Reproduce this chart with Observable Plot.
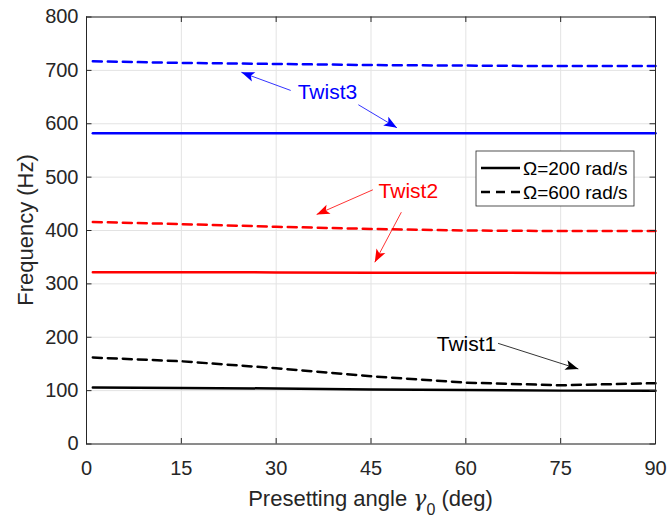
<!DOCTYPE html>
<html><head><meta charset="utf-8">
<script src="https://cdn.jsdelivr.net/npm/d3@7"></script>
<script src="https://cdn.jsdelivr.net/npm/@observablehq/plot@0.6"></script>
<style>body{margin:0;background:#fff} #chart{width:668px;height:519px}</style>
</head><body><div id="chart"></div>
<script>
// ---- data ----
const angles = [1, 15, 30, 45, 60, 75, 90];
const twist1_200 = [106, 105, 104, 102, 101, 100, 100];
const twist1_600 = [162, 155, 142, 127, 115, 110, 114];
const twist2_200 = [322, 322, 321.5, 321, 321, 320.5, 320.5];
const twist2_600 = [416, 412, 407, 403, 400, 399, 399];
const twist3_200 = [582, 582, 582, 582, 582, 582, 582];
const twist3_600 = [717, 714, 712, 710, 709, 708, 708];
const xTicks = [0, 15, 30, 45, 60, 75, 90];
const yTicks = [0, 100, 200, 300, 400, 500, 600, 700, 800];
const legendLabels = ["\u03A9=200 rad/s", "\u03A9=600 rad/s"];
const annotLabels = ["Twist3", "Twist2", "Twist1"];
const annotColors = ["blue", "red", "black"];
const annotX = [38.1, 50.9, 60.1];
const annotY = [659, 473.6, 186.2];
const arrowX1 = [32.3, 43.0, 45.3, 49.8, 65.1];
const arrowY1 = [662.4, 635.6, 476.3, 434.3, 188.6];
const arrowX2 = [24.5, 49.1, 36.4, 45.6, 77.8];
const arrowY2 = [696.3, 592.5, 430, 340.5, 140.6];
const arrowColors = ["blue", "blue", "red", "red", "black"];

const series = [
  {name: "Twist1", speed: 200, color: "black", values: twist1_200},
  {name: "Twist1", speed: 600, color: "black", values: twist1_600},
  {name: "Twist2", speed: 200, color: "red", values: twist2_200},
  {name: "Twist2", speed: 600, color: "red", values: twist2_600},
  {name: "Twist3", speed: 200, color: "blue", values: twist3_200},
  {name: "Twist3", speed: 600, color: "blue", values: twist3_600}
];
const rows = [];
series.forEach(s => angles.forEach((a, i) => rows.push({angle: a, freq: s.values[i], key: s.name + "-" + s.speed, color: s.color, dashed: s.speed === 600})));
const annots = annotLabels.map((l, i) => ({label: l, x: annotX[i], y: annotY[i], color: annotColors[i]}));
const arrows = arrowX1.map((d, i) => ({x1: d, y1: arrowY1[i], x2: arrowX2[i], y2: arrowY2[i], color: arrowColors[i]}));

// ---- layout ----
const W = 668, H = 519, mL = 86, mR = 13, mT = 16.5, mB = 75.5;
const fw = W - mL - mR, fh = H - mT - mB, tk = 5.5;
const font = "'Liberation Sans', Arial, Helvetica, sans-serif";
const axisColor = "#262626";
const lw = 2.5, dash = "9,6";

const headMarker = (color) => d3.create("svg:marker")
  .attr("viewBox", "-14 -7 15 14").attr("markerWidth", 15).attr("markerHeight", 14)
  .attr("markerUnits", "userSpaceOnUse").attr("orient", "auto").attr("refX", 0).attr("refY", 0)
  .call(m => m.append("path").attr("d", "M0,0L-13,-5L-10,0L-13,5Z").attr("fill", color).attr("stroke", "none"))
  .node();

function build(marker) {
  return Plot.plot({
    width: W, height: H,
    marginLeft: mL, marginRight: mR, marginTop: mT, marginBottom: mB,
    style: {fontFamily: font, color: axisColor, background: "#fff", overflow: "visible"},
    x: {domain: [0, 90]},
    y: {domain: [0, 800]},
    color: {type: "identity"},
    marks: [
      Plot.gridX(xTicks, {stroke: "#e3e3e3", strokeOpacity: 1}),
      Plot.gridY(yTicks, {stroke: "#e3e3e3", strokeOpacity: 1}),
      Plot.line(rows.filter(d => !d.dashed), {x: "angle", y: "freq", z: "key", stroke: "color", strokeWidth: lw}),
      Plot.line(rows.filter(d => d.dashed), {x: "angle", y: "freq", z: "key", stroke: "color", strokeWidth: lw, strokeDasharray: dash}),
      Plot.link(arrows, {x1: "x1", y1: "y1", x2: "x2", y2: "y2", stroke: "color", strokeWidth: 0.8, markerEnd: marker}),
      Plot.text(annots, {x: "x", y: "y", text: "label", fill: "color", fontSize: 21}),
      Plot.tickX(xTicks, {x: d => d, stroke: axisColor, insetTop: fh - tk}),
      Plot.tickX(xTicks, {x: d => d, stroke: axisColor, insetBottom: fh - tk}),
      Plot.tickY(yTicks, {y: d => d, stroke: axisColor, insetRight: fw - tk}),
      Plot.tickY(yTicks, {y: d => d, stroke: axisColor, insetLeft: fw - tk}),
      Plot.axisX(xTicks, {tickSize: 0, tickPadding: 17, fontSize: 20, label: null}),
      Plot.axisY(yTicks, {tickSize: 0, tickPadding: 8, fontSize: 20, label: null}),
      Plot.frame({stroke: axisColor})
    ]
  });
}
let chart;
try { chart = build(headMarker); } catch (e) { chart = build("arrow"); }
document.getElementById("chart").appendChild(chart);

// ---- axis labels & legend ----
const svg = d3.select(chart);
const xs = chart.scale("x"), ys = chart.scale("y");
const xMid = (xs.range[0] + xs.range[1]) / 2;
const yMid = (ys.range[0] + ys.range[1]) / 2;
svg.append("text").attr("transform", `translate(25,${yMid}) rotate(-90)`)
  .attr("text-anchor", "middle").attr("dominant-baseline", "central")
  .attr("font-size", 22).attr("fill", axisColor).text("Frequency (Hz)");
const xl = svg.append("text").attr("x", xMid).attr("y", 506).attr("text-anchor", "middle")
  .attr("font-size", 22).attr("fill", axisColor);
xl.append("tspan").text("Presetting angle ");
xl.append("tspan").attr("font-family", "'DejaVu Serif', serif").attr("font-style", "italic").text("\u03B3");
xl.append("tspan").attr("font-size", 16).attr("dy", 9).text("0");
xl.append("tspan").attr("dy", -9).text(" (deg)");

const lg = svg.append("g").attr("text-anchor", "start");
lg.append("rect").attr("x", 476).attr("y", 151).attr("width", 158).attr("height", 55)
  .attr("fill", "#fff").attr("stroke", axisColor).attr("stroke-width", 0.8);
legendLabels.forEach((t, i) => {
  const yy = 168 + i * 24;
  lg.append("line").attr("x1", 481).attr("x2", 520).attr("y1", yy).attr("y2", yy)
    .attr("stroke", "black").attr("stroke-width", lw).attr("stroke-dasharray", i ? dash : null);
  lg.append("text").attr("x", 523).attr("y", yy).attr("dy", "0.35em").attr("font-size", 19)
    .attr("text-anchor", "start").attr("fill", "black").text(t);
});
</script>
</body></html>
